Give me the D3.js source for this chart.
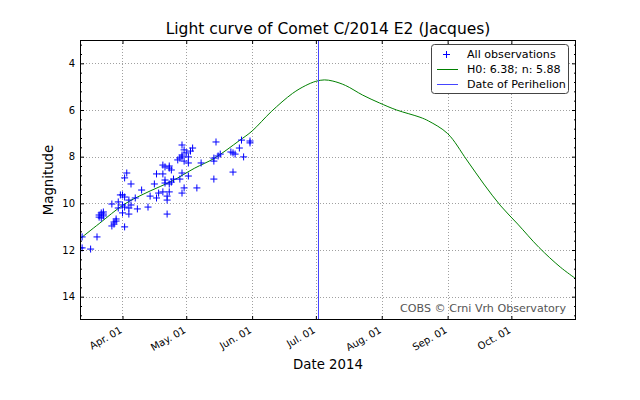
<!DOCTYPE html>
<html><head><meta charset="utf-8">
<script src="https://cdn.jsdelivr.net/npm/d3@7"></script>
<style>body{margin:0;background:#fff} svg{display:block;font-family:"DejaVu Sans",sans-serif}</style>
</head><body><svg id="c" width="640" height="400"></svg>
<script>
// ---- data ----
const obsDates = [
"2014-03-12","2014-03-13","2014-03-13","2014-03-17","2014-03-20","2014-03-21","2014-03-22","2014-03-23","2014-03-23","2014-03-21",
"2014-03-23","2014-03-22","2014-03-27","2014-03-28","2014-03-29","2014-03-29","2014-03-28","2014-03-27","2014-03-30","2014-03-30",
"2014-03-31","2014-04-01","2014-04-01","2014-04-02","2014-04-03","2014-04-01","2014-04-02","2014-04-02","2014-04-02","2014-04-04",
"2014-04-04","2014-04-05","2014-04-04","2014-04-05","2014-04-07","2014-04-08","2014-04-10","2014-04-13","2014-04-14","2014-04-16",
"2014-04-17","2014-04-17","2014-04-18","2014-04-20","2014-04-20","2014-04-20","2014-04-21","2014-04-21","2014-04-22","2014-04-22",
"2014-04-22","2014-04-23","2014-04-23","2014-04-23","2014-04-23","2014-04-24","2014-04-24","2014-04-25","2014-04-21","2014-04-27",
"2014-04-28","2014-04-28","2014-04-29","2014-04-29","2014-04-29","2014-04-30","2014-05-01","2014-04-29","2014-05-02","2014-04-30",
"2014-05-02","2014-05-04","2014-05-03","2014-04-29","2014-05-02","2014-04-30","2014-05-06","2014-05-08","2014-05-14","2014-05-14",
"2014-05-14","2014-05-15","2014-05-16","2014-05-17","2014-05-22","2014-05-23","2014-05-23","2014-05-24","2014-05-26","2014-05-27",
"2014-05-28","2014-05-31","2014-05-31"];
const obsMags = [
11.91,11.91,11.44,11.96,11.44,10.50,10.41,10.46,10.37,10.59,
10.54,10.63,10.97,10.80,10.67,10.76,10.89,10.03,10.20,9.94,
9.64,10.41,10.07,8.91,8.70,9.64,9.73,10.16,11.01,10.20,
10.46,9.17,9.86,10.07,9.77,10.24,9.43,10.16,9.69,9.17,
8.74,9.77,9.56,8.36,8.74,9.51,9.00,9.13,9.86,10.46,
9.69,8.40,8.49,9.17,9.51,8.57,9.09,8.96,8.44,8.14,
8.06,8.96,9.56,8.01,7.50,7.71,7.84,7.93,8.01,8.19,
8.27,7.63,7.76,8.70,8.83,9.34,9.34,8.27,8.96,8.06,
8.19,7.37,7.97,7.89,7.80,7.84,8.66,7.89,7.63,7.29,
8.01,7.33,7.41];

const modelDates = ["2014-03-12","2014-03-21","2014-04-02","2014-04-14","2014-04-24","2014-05-05","2014-05-14","2014-05-26",
"2014-06-01","2014-06-10","2014-06-20","2014-06-26","2014-07-01","2014-07-05","2014-07-09","2014-07-15","2014-07-23","2014-07-31",
"2014-08-08","2014-08-19","2014-08-23","2014-09-01","2014-09-10","2014-09-18","2014-09-26","2014-10-04","2014-10-14","2014-10-24","2014-10-31"];
const modelMags = [11.52,10.87,10.03,9.47,9.06,8.49,8.08,7.31,
6.90,6.07,5.29,4.96,4.77,4.71,4.76,4.95,5.36,5.70,
6.00,6.31,6.47,7.01,8.14,9.17,10.11,10.89,11.89,12.73,13.21];

const perihelionDate = "2014-07-02";
const xTickDates = ["2014-04-01","2014-05-01","2014-06-01","2014-07-01","2014-08-01","2014-09-01","2014-10-01"];
const xTickLabels = ["Apr. 01","May. 01","Jun. 01","Jul. 01","Aug. 01","Sep. 01","Oct. 01"];
const yTicks = [4,6,8,10,12,14];
const xDomain = ["2014-03-12T00:00","2014-10-31T10:00"];
const yDomain = [3,15];
const legendLabels = ["All observations","H0: 6.38; n: 5.88","Date of Perihelion"];
const titleText = "Light curve of Comet C/2014 E2 (Jacques)";
const xLabelText = "Date 2014";
const yLabelText = "Magnitude";
const creditText = "COBS \u00a9 Crni Vrh Observatory";

// ---- drawing ----
const pd = d3.utcParse("%Y-%m-%d");
const pdt = d3.utcParse("%Y-%m-%dT%H:%M");
const L = 80, R = 576, T = 40, B = 320;
const svg = d3.select("#c");
const x = d3.scaleUtc().domain(xDomain.map(pdt)).range([L, R]);
const y = d3.scaleLinear().domain(yDomain).range([T, B]);
const FONT = '"DejaVu Sans", sans-serif';
const OBS_BLUE = "#0000ff";

// grid
const grid = svg.append("g").attr("stroke", "#a0a0a0").attr("stroke-width", 1).attr("stroke-dasharray", "1,2");
grid.selectAll(".gx").data(xTickDates).join("line")
  .attr("x1", d => Math.round(x(pd(d))) + 0.5).attr("x2", d => Math.round(x(pd(d))) + 0.5)
  .attr("y1", T).attr("y2", B);
grid.selectAll(".gy").data(yTicks).join("line")
  .attr("y1", d => Math.round(y(d)) + 0.5).attr("y2", d => Math.round(y(d)) + 0.5)
  .attr("x1", L).attr("x2", R);

// clip
svg.append("clipPath").attr("id", "clip").append("rect").attr("x", L).attr("y", T).attr("width", R - L).attr("height", B - T);
const plot = svg.append("g").attr("clip-path", "url(#clip)");

// model curve
const model = modelDates.map((d, i) => [pd(d), modelMags[i]]);
plot.append("path").datum(model)
  .attr("fill", "none").attr("stroke", "#008000").attr("stroke-width", 1)
  .attr("d", d3.line().x(d => x(d[0])).y(d => y(d[1])).curve(d3.curveCatmullRom.alpha(0.5)));

// perihelion line
const px = Math.round(x(pd(perihelionDate))) + 0.5;
plot.append("line").attr("x1", px).attr("x2", px).attr("y1", T).attr("y2", B)
  .attr("stroke", "#4545ff").attr("stroke-width", 1);

// observations
const crossPath = "M-3.5,0H3.5M0,-3.5V3.5";
plot.append("g").selectAll("path").data(obsDates.map((d, i) => [pd(d), obsMags[i]])).join("path")
  .attr("d", crossPath).attr("fill", "none").attr("stroke", OBS_BLUE).attr("stroke-width", 1)
  .attr("transform", d => `translate(${x(d[0]).toFixed(2)},${y(d[1]).toFixed(2)})`);

// axes
function styleAxis(g) {
  g.select(".domain").remove();
  g.selectAll("line").attr("stroke", "#000");
  g.selectAll("text").attr("fill", "#000").style("font-family", FONT).style("font-size", "10px");
}
const minorY = d3.range(3.2, 15, 0.4).filter(v => !yTicks.some(t => Math.abs(t - v) < 1e-6));

svg.append("g").attr("transform", `translate(0,${B})`)
  .call(d3.axisBottom(x).tickValues(xTickDates.map(pd)).tickSizeInner(-4).tickSizeOuter(0)
    .tickFormat((d, i) => xTickLabels[i]))
  .call(styleAxis)
  .call(g => g.selectAll("text").attr("x", 0).attr("y", 0).attr("dy", null)
    .attr("text-anchor", "end").attr("dominant-baseline", "central")
    .attr("transform", "translate(-2,9) rotate(-30)"));
svg.append("g").attr("transform", `translate(0,${T})`)
  .call(d3.axisTop(x).tickValues(xTickDates.map(pd)).tickSizeInner(-4).tickSizeOuter(0).tickFormat(""))
  .call(styleAxis);
svg.append("g").attr("transform", `translate(${L},0)`)
  .call(d3.axisLeft(y).tickValues(yTicks).tickSizeInner(-4).tickSizeOuter(0).tickPadding(5))
  .call(styleAxis);
svg.append("g").attr("transform", `translate(${L},0)`)
  .call(d3.axisLeft(y).tickValues(minorY).tickSizeInner(-2).tickSizeOuter(0).tickFormat(""))
  .call(styleAxis);
svg.append("g").attr("transform", `translate(${R},0)`)
  .call(d3.axisRight(y).tickValues(yTicks).tickSizeInner(-4).tickSizeOuter(0).tickFormat(""))
  .call(styleAxis);
svg.append("g").attr("transform", `translate(${R},0)`)
  .call(d3.axisRight(y).tickValues(minorY).tickSizeInner(-2).tickSizeOuter(0).tickFormat(""))
  .call(styleAxis);

// frame
svg.append("rect").attr("x", L + 0.5).attr("y", T + 0.5).attr("width", R - L - 1).attr("height", B - T - 1)
  .attr("fill", "none").attr("stroke", "#000").attr("stroke-width", 1);

// title & labels
svg.append("text").attr("x", (L + R) / 2).attr("y", 34).attr("text-anchor", "middle")
  .style("font-family", FONT).style("font-size", "15.5px").text(titleText);
svg.append("text").attr("x", (L + R) / 2).attr("y", 369).attr("text-anchor", "middle")
  .style("font-family", FONT).style("font-size", "13.3px").text(xLabelText);
svg.append("text").attr("transform", `translate(53,${(T + B) / 2}) rotate(-90)`).attr("text-anchor", "middle")
  .style("font-family", FONT).style("font-size", "13.3px").text(yLabelText);

// credit
svg.append("text").attr("x", 566).attr("y", 312).attr("text-anchor", "end")
  .attr("fill", "#555").style("font-family", FONT).style("font-size", "11.1px").text(creditText);

// legend
const lg = svg.append("g");
lg.append("rect").attr("x", 431.5).attr("y", 44.5).attr("width", 137).attr("height", 49).attr("rx", 3)
  .attr("fill", "#fff").attr("stroke", "#444").attr("stroke-width", 1);
const rows = [54.5, 69.5, 84.5];
lg.append("path").attr("d", crossPath).attr("transform", `translate(446.5,${rows[0]})`)
  .attr("stroke", OBS_BLUE).attr("fill", "none");
lg.append("line").attr("x1", 437).attr("x2", 458).attr("y1", rows[1]).attr("y2", rows[1]).attr("stroke", "#008000");
lg.append("line").attr("x1", 437).attr("x2", 458).attr("y1", rows[2]).attr("y2", rows[2]).attr("stroke", "#4545ff");
lg.selectAll(".lt").data(legendLabels).join("text")
  .attr("x", 467).attr("y", (d, i) => rows[i]).attr("dominant-baseline", "central")
  .style("font-family", FONT).style("font-size", "11.1px").text(d => d);
</script></body></html>
